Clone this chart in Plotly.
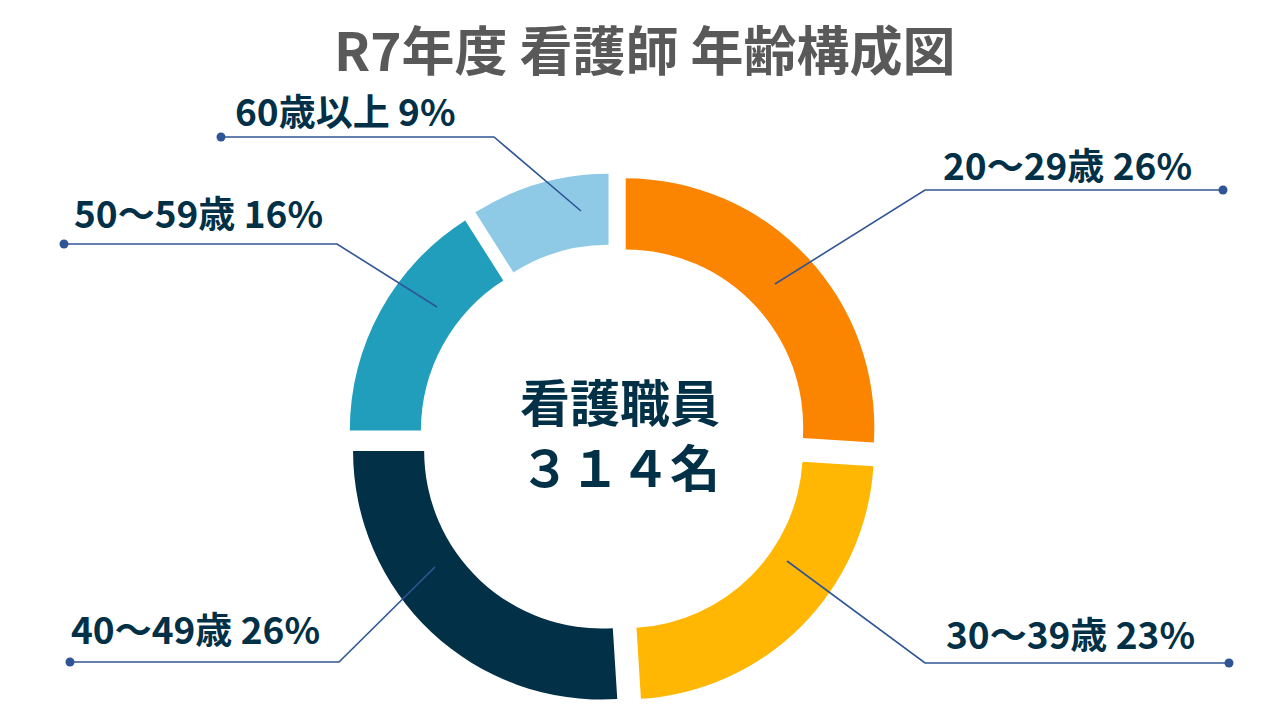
import plotly.graph_objects as go

# data
age_groups = ["20～29歳", "30～39歳", "40～49歳", "50～59歳", "60歳以上"]
shares = [26, 23, 26, 16, 9]
slice_colors = ["#FB8500", "#FFB703", "#023047", "#219EBC", "#8ECAE6"]
title_text = "R7年度 看護師 年齢構成図"
center_text = "看護職員<br>３１４名"

W, H = 1280, 720
OFF = 8  # page body margin
FONT = "Noto Sans CJK JP"
NAVY = "#023047"
LINE = "#2F5597"

# donut geometry in screen pixels (center, radius of the pulled slices)
cx, cy, r_out = 613.3, 438.6, 248.6
pull = 0.0684
half = r_out * (1 + pull)

# label layout: text centre, point on slice, elbow, end dot (screen pixels)
label_layout = [
    dict(text=(1067, 164), start=(775, 284), elbow=(925, 190), dot=(1223, 190)),
    dict(text=(1070, 633), start=(787, 561), elbow=(925, 663), dot=(1229, 663)),
    dict(text=(195, 628), start=(435, 567), elbow=(339, 662), dot=(70, 662)),
    dict(text=(198, 212), start=(437, 307), elbow=(337, 244), dot=(64, 244)),
    dict(text=(345, 110), start=(581, 211), elbow=(494, 137), dot=(221, 137)),
]


def px(x, y):
    return (x - OFF) / W, 1 - (y - OFF) / H


fig = go.Figure(go.Pie(
    labels=age_groups,
    values=shares,
    sort=False,
    direction="clockwise",
    rotation=0,
    hole=0.714,
    pull=[pull] * len(shares),
    marker=dict(colors=slice_colors, line=dict(width=0)),
    textinfo="none",
    hoverinfo="label+percent",
    showlegend=False,
    domain=dict(
        x=[(cx - OFF - half) / W, (cx - OFF + half) / W],
        y=[(H - (cy - OFF) - half) / H, (H - (cy - OFF) + half) / H],
    ),
))

shapes = []
annotations = []
for name, share, lay in zip(age_groups, shares, label_layout):
    p0 = px(*lay["start"])
    p1 = px(*lay["elbow"])
    p2 = px(*lay["dot"])
    shapes.append(dict(
        type="path", xref="paper", yref="paper",
        path=f"M {p0[0]} {p0[1]} L {p1[0]} {p1[1]} L {p2[0]} {p2[1]}",
        line=dict(color=LINE, width=1.6),
    ))
    rx, ry = 4.5 / W, 4.5 / H
    shapes.append(dict(
        type="circle", xref="paper", yref="paper",
        x0=p2[0] - rx, x1=p2[0] + rx, y0=p2[1] - ry, y1=p2[1] + ry,
        fillcolor=LINE, line=dict(width=0),
    ))
    tx, ty = px(*lay["text"])
    annotations.append(dict(
        x=tx, y=ty, xref="paper", yref="paper",
        text=f"<b>{name} {share}%</b>", showarrow=False,
        xanchor="center", yanchor="middle",
        font=dict(family=FONT, size=37, color=NAVY),
    ))

cxp, cyp = px(620, 432)
annotations.append(dict(
    x=cxp, y=cyp, xref="paper", yref="paper",
    text=f"<b>{center_text}</b>", showarrow=False,
    xanchor="center", yanchor="middle",
    font=dict(family=FONT, size=50, color=NAVY),
))
txp, typ = px(644, 48)
annotations.append(dict(
    x=txp, y=typ, xref="paper", yref="paper",
    text=f"<b>{title_text}</b>", showarrow=False,
    xanchor="center", yanchor="middle",
    font=dict(family=FONT, size=53, color="#595959"),
))

fig.update_layout(
    width=W, height=H,
    margin=dict(l=0, r=0, t=0, b=0),
    paper_bgcolor="white",
    plot_bgcolor="white",
    shapes=shapes,
    annotations=annotations,
)

fig.write_html("out.html")
